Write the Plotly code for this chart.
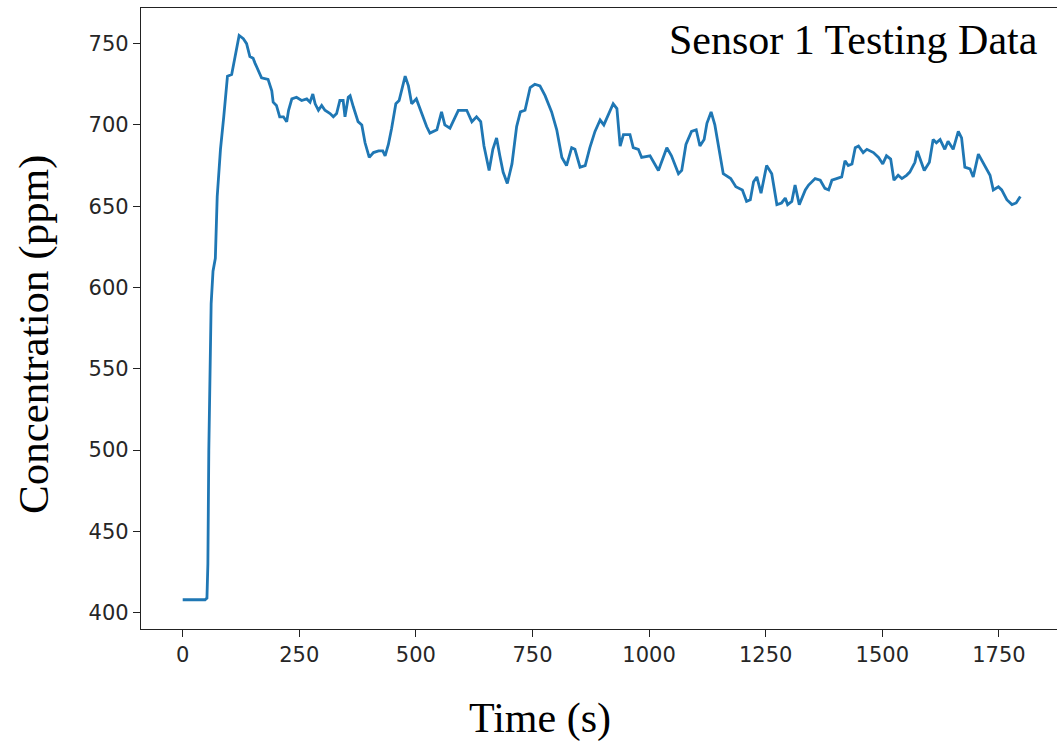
import plotly.graph_objects as go

time_s = [0, 48, 52, 54, 56, 58, 61, 65, 70, 74, 78, 81, 88, 96, 105, 112, 121, 130, 137, 144, 151, 155, 162, 169, 183, 191, 194, 201, 208, 216, 223, 227, 234, 244, 255, 266, 273, 279, 284, 291, 298, 305, 316, 323, 330, 337, 344, 348, 355, 359, 366, 376, 384, 391, 400, 409, 420, 429, 434, 441, 448, 457, 464, 470, 477, 484, 491, 501, 512, 523, 530, 545, 555, 562, 573, 584, 591, 609, 620, 630, 639, 646, 657, 665, 673, 680, 687, 696, 706, 716, 724, 734, 745, 755, 766, 777, 791, 802, 813, 823, 834, 841, 852, 863, 873, 884, 895, 903, 912, 923, 931, 938, 945, 959, 966, 977, 984, 1002, 1020, 1038, 1048, 1063, 1070, 1079, 1091, 1101, 1109, 1118, 1124, 1133, 1141, 1149, 1159, 1175, 1186, 1200, 1209, 1217, 1224, 1231, 1240, 1252, 1263, 1274, 1284, 1292, 1297, 1306, 1313, 1322, 1335, 1342, 1356, 1367, 1377, 1385, 1392, 1402, 1413, 1420, 1427, 1435, 1442, 1449, 1459, 1467, 1481, 1492, 1501, 1509, 1518, 1525, 1534, 1542, 1552, 1559, 1570, 1575, 1583, 1590, 1601, 1609, 1616, 1624, 1634, 1641, 1652, 1663, 1670, 1677, 1688, 1695, 1706, 1717, 1731, 1738, 1749, 1756, 1767, 1778, 1787, 1796]

concentration_ppm = [408, 408, 409, 430, 500, 550, 590, 610, 618, 656, 674, 685, 705, 730, 731, 742, 755, 753, 750, 742, 741, 738, 734, 729, 728, 721, 714, 712, 705, 705, 702, 709, 716, 717, 715, 716, 714, 719, 713, 709, 712, 709, 707, 705, 707, 715, 715, 705, 717, 718, 711, 702, 700, 689, 680, 683, 684, 684, 681, 688, 698, 713, 715, 722, 730, 724, 713, 716, 707, 699, 695, 697, 708, 700, 698, 705, 709, 709, 702, 705, 702, 687, 672, 685, 692, 681, 671, 664, 676, 699, 708, 709, 723, 725, 724, 718, 708, 697, 680, 675, 686, 685, 674, 675, 686, 696, 703, 700, 706, 713, 710, 687, 694, 694, 686, 685, 680, 681, 672, 686, 681, 670, 672, 688, 696, 697, 687, 691, 701, 708, 700, 687, 670, 667, 662, 660, 653, 654, 665, 668, 658, 675, 670, 651, 652, 655, 651, 653, 663, 651, 660, 663, 667, 666, 661, 660, 666, 667, 668, 678, 675, 676, 686, 687, 683, 685, 683, 680, 676, 681, 679, 666, 669, 667, 669, 671, 677, 684, 677, 672, 677, 691, 689, 691, 685, 690, 685, 696, 692, 674, 673, 668, 682, 676, 669, 660, 662, 660, 654, 651, 652, 656]

x_ticks = [0, 250, 500, 750, 1000, 1250, 1500, 1750]
y_ticks = [400, 450, 500, 550, 600, 650, 700, 750]

W, H = 1057, 744
L, R, T, B = 141, 0, 8, 115
pw, ph = W - L - R, H - T - B

def px_to_paper_x(px):
    return (px - L) / pw

def py_to_paper_y(py):
    return (H - B - py) / ph

fig = go.Figure()
fig.add_trace(go.Scatter(
    x=time_s, y=concentration_ppm, mode="lines",
    line=dict(color="#1f77b4", width=2.8),
    showlegend=False, hoverinfo="skip",
))

axis_common = dict(
    showgrid=False, zeroline=False, showline=True, linecolor="#222222", linewidth=1.3,
    ticks="outside", ticklen=7, tickwidth=1.3, tickcolor="#222222",
    tickfont=dict(family="DejaVu Sans", size=21, color="#262626"),
)

fig.update_layout(
    width=W, height=H,
    margin=dict(l=L, r=R, t=T, b=B, pad=0),
    paper_bgcolor="white", plot_bgcolor="white",
    xaxis=dict(range=[-89.4, 1874.6], tickvals=x_ticks, mirror=True, **axis_common),
    yaxis=dict(range=[390.0, 771.9], tickvals=y_ticks, mirror=False, **axis_common),
    annotations=[
        dict(text="Time (s)", xref="paper", yref="paper",
             x=px_to_paper_x(540), y=py_to_paper_y(718), xanchor="center", yanchor="middle",
             showarrow=False, font=dict(family="Liberation Serif", size=42, color="black")),
        dict(text="Concentration (ppm)", xref="paper", yref="paper", textangle=-90,
             x=px_to_paper_x(34), y=py_to_paper_y(335), xanchor="center", yanchor="middle",
             showarrow=False, font=dict(family="Liberation Serif", size=43, color="black")),
        dict(text="Sensor 1 Testing Data", xref="paper", yref="paper",
             x=px_to_paper_x(1040), y=py_to_paper_y(40), xanchor="right", yanchor="middle",
             showarrow=False, font=dict(family="Liberation Serif", size=42, color="black")),
    ],
)

fig.write_html("out.html")
